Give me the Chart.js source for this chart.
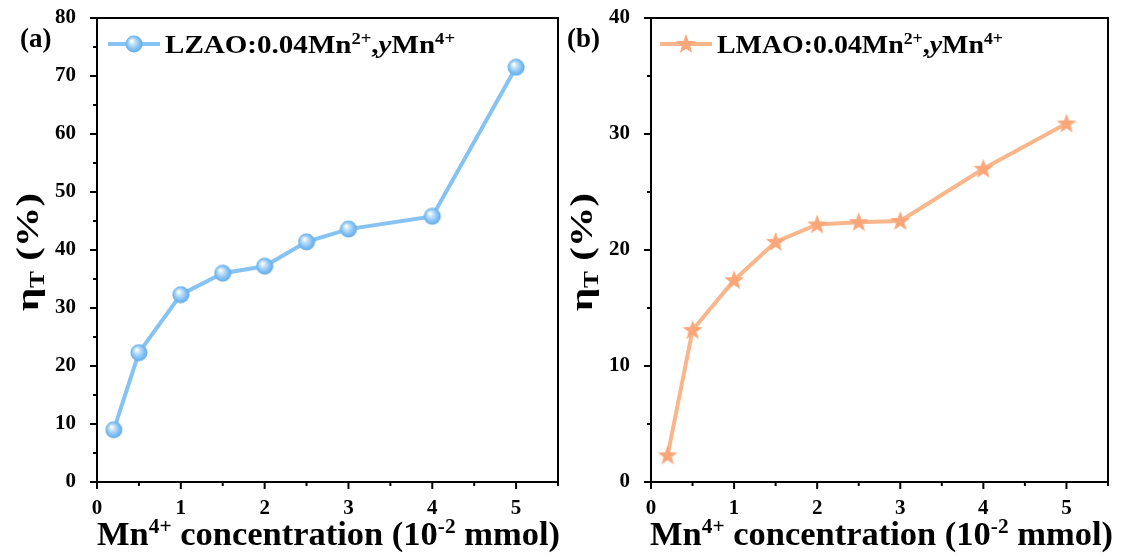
<!DOCTYPE html>
<html>
<head>
<meta charset="utf-8">
<script src="https://cdn.jsdelivr.net/npm/chart.js@4"></script>
<style>
  body { margin: 0; background: #fff; }
  .panel { position: absolute; top: 0; width: 563px; height: 558px; }
</style>
</head>
<body>
<div class="panel" style="left:0"><canvas id="chartA" width="563" height="558"></canvas></div>
<div class="panel" style="left:563px"><canvas id="chartB" width="563" height="558"></canvas></div>
<script>
// data
const mnConc = [0.2, 0.5, 1, 1.5, 2, 2.5, 3, 4, 5];
const lzaoEta = [9.0, 22.3, 32.3, 36.0, 37.2, 41.4, 43.6, 45.8, 71.5];
const lmaoEta = [2.3, 13.1, 17.4, 20.7, 22.2, 22.4, 22.5, 27.0, 30.9];
const xRange = [0, 5.5];
const yRangeA = [0, 80];
const yRangeB = [0, 40];

const SERIF = '"Liberation Serif", "Times New Roman", serif';

// marker images
function sphere() {
  const c = document.createElement('canvas');
  c.width = 18; c.height = 18;
  const g = c.getContext('2d');
  const grad = g.createRadialGradient(6.5, 6, 0.5, 9, 9, 9);
  grad.addColorStop(0, '#ffffff');
  grad.addColorStop(0.3, '#bfe0fa');
  grad.addColorStop(0.7, '#7ebef2');
  grad.addColorStop(1, '#5aa6e6');
  g.fillStyle = grad;
  g.beginPath(); g.arc(9, 9, 8.5, 0, Math.PI * 2); g.fill();
  return c;
}
function star() {
  const c = document.createElement('canvas');
  c.width = 22; c.height = 22;
  const g = c.getContext('2d');
  g.fillStyle = '#fba678';
  g.beginPath();
  for (let i = 0; i < 10; i++) {
    const r = i % 2 ? 4.3 : 10.5;
    const a = -Math.PI / 2 + i * Math.PI / 5;
    g.lineTo(11 + r * Math.cos(a), 11.5 + r * Math.sin(a));
  }
  g.closePath(); g.fill();
  return c;
}

// text with super/subscripts: parts = [[text, kind]], kind: '', 'sup', 'sub', 'it'
function fontFor(k, size) {
  if (k === 'sup' || k === 'sub') return 'bold ' + Math.round(size * 0.62) + 'px ' + SERIF;
  if (k === 'it') return 'italic bold ' + size + 'px ' + SERIF;
  return 'bold ' + size + 'px ' + SERIF;
}
function richWidth(ctx, parts, size) {
  let w = 0;
  parts.forEach(([t, k]) => { ctx.font = fontFor(k, size); w += ctx.measureText(t).width; });
  return w;
}
function richText(ctx, parts, x, y, size, targetW) {
  const w = richWidth(ctx, parts, size);
  const sx = targetW ? targetW / w : 1;
  ctx.save();
  ctx.translate(x, y);
  ctx.scale(sx, 1);
  ctx.textBaseline = 'alphabetic';
  ctx.textAlign = 'left';
  let cx = 0;
  parts.forEach(([t, k]) => {
    ctx.font = fontFor(k, size);
    let dy = 0;
    if (k === 'sup') dy = -size * 0.36;
    if (k === 'sub') dy = size * 0.2;
    ctx.fillText(t, cx, dy);
    cx += ctx.measureText(t).width;
  });
  ctx.restore();
}

const xTitle = [['Mn', ''], ['4+', 'sup'], [' concentration (10', ''], ['-2', 'sup'], [' mmol)', '']];
const yTitle = [['η', ''], ['T', 'sub'], [' (%)', '']];

const deco = {
  id: 'deco',
  afterDraw(chart, args, o) {
    const { ctx, chartArea: a, scales: { x, y } } = chart;
    ctx.save();
    ctx.strokeStyle = '#000';
    ctx.lineWidth = 2;
    ctx.strokeRect(a.left, a.top, a.right - a.left, a.bottom - a.top);
    ctx.beginPath();
    for (let v = xRange[0]; v <= xRange[1] + 1e-9; v += 0.5) {
      const px = x.getPixelForValue(v);
      const len = Math.abs(v % 1) < 1e-9 ? 7 : 4;
      ctx.moveTo(px, a.bottom); ctx.lineTo(px, a.bottom + len);
    }
    for (let v = y.min; v <= y.max + 1e-9; v += o.minorY) {
      const py = y.getPixelForValue(v);
      const len = Math.abs(v % (o.minorY * 2)) < 1e-9 ? 7 : 4;
      ctx.moveTo(a.left, py); ctx.lineTo(a.left - len, py);
    }
    ctx.stroke();

    ctx.fillStyle = '#000';
    // panel letter
    ctx.font = 'bold 27px ' + SERIF;
    ctx.textBaseline = 'middle';
    ctx.fillText(o.letter, o.letterX, 40);

    // legend
    ctx.strokeStyle = o.color;
    ctx.lineWidth = 4;
    ctx.beginPath();
    ctx.moveTo(o.legX, 44); ctx.lineTo(o.legX + 52, 44);
    ctx.stroke();
    const img = chart.data.datasets[0].pointStyle;
    ctx.drawImage(img, o.legX + 26 - img.width / 2, 44 - img.height / 2);
    richText(ctx, o.legend, o.legX + 57, 53, 25, o.legW);

    // axis titles
    richText(ctx, xTitle, o.xtX, 545, 34, o.xtW);
    ctx.save();
    ctx.translate(o.ytX, 252);
    ctx.rotate(-Math.PI / 2);
    const w = 118;
    richText(ctx, yTitle, -w / 2, 0, 32, w);
    ctx.restore();
    ctx.restore();
  }
};

function makeChart(id, vals, color, marker, yr, opt) {
  return new Chart(document.getElementById(id), {
    type: 'line',
    data: {
      labels: mnConc,
      datasets: [{
        data: mnConc.map((c, i) => ({ x: c, y: vals[i] })),
        borderColor: color,
        borderWidth: 4,
        pointStyle: marker,
        pointRadius: 9,
        pointHoverRadius: 9,
        tension: 0
      }]
    },
    options: {
      responsive: false,
      animation: false,
      events: [],
      layout: { autoPadding: false, padding: { top: 18, right: opt.padRight, left: 0, bottom: 0 } },
      plugins: {
        legend: { display: false },
        tooltip: { enabled: false },
        deco: opt
      },
      scales: {
        x: {
          type: 'linear',
          min: xRange[0], max: xRange[1],
          grid: { display: false },
          border: { display: false },
          ticks: {
            stepSize: 1, includeBounds: false, padding: 6, color: '#000',
            font: { family: SERIF, size: 21, weight: 'bold' }
          },
          afterFit: s => { s.height = 76; s.paddingLeft = 0; s.paddingRight = 0; }
        },
        y: {
          min: yr[0], max: yr[1],
          grid: { display: false },
          border: { display: false },
          ticks: {
            stepSize: opt.minorY * 2, padding: 13, color: '#000',
            font: { family: SERIF, size: 21, weight: 'bold' }
          },
          afterFit: s => { s.width = opt.yWidth; s.paddingTop = 0; s.paddingBottom = 0; }
        }
      }
    },
    plugins: [deco]
  });
}

makeChart('chartA', lzaoEta, '#86c3f3', sphere(), yRangeA, {
  padRight: 5, yWidth: 97, minorY: 5, color: '#86c3f3',
  letter: '(a)', letterX: 20, legX: 108, legW: 290,
  legend: [['LZAO:0.04Mn', ''], ['2+', 'sup'], [',', ''], ['y', 'it'], ['Mn', ''], ['4+', 'sup']],
  xtX: 97, xtW: 463, ytX: 38
});
makeChart('chartB', lmaoEta, '#f9b68b', star(), yRangeB, {
  padRight: 18, yWidth: 88, minorY: 5, color: '#f9b68b',
  letter: '(b)', letterX: 4, legX: 97, legW: 286,
  legend: [['LMAO:0.04Mn', ''], ['2+', 'sup'], [',', ''], ['y', 'it'], ['Mn', ''], ['4+', 'sup']],
  xtX: 87, xtW: 463, ytX: 29
});
</script>
</body>
</html>
